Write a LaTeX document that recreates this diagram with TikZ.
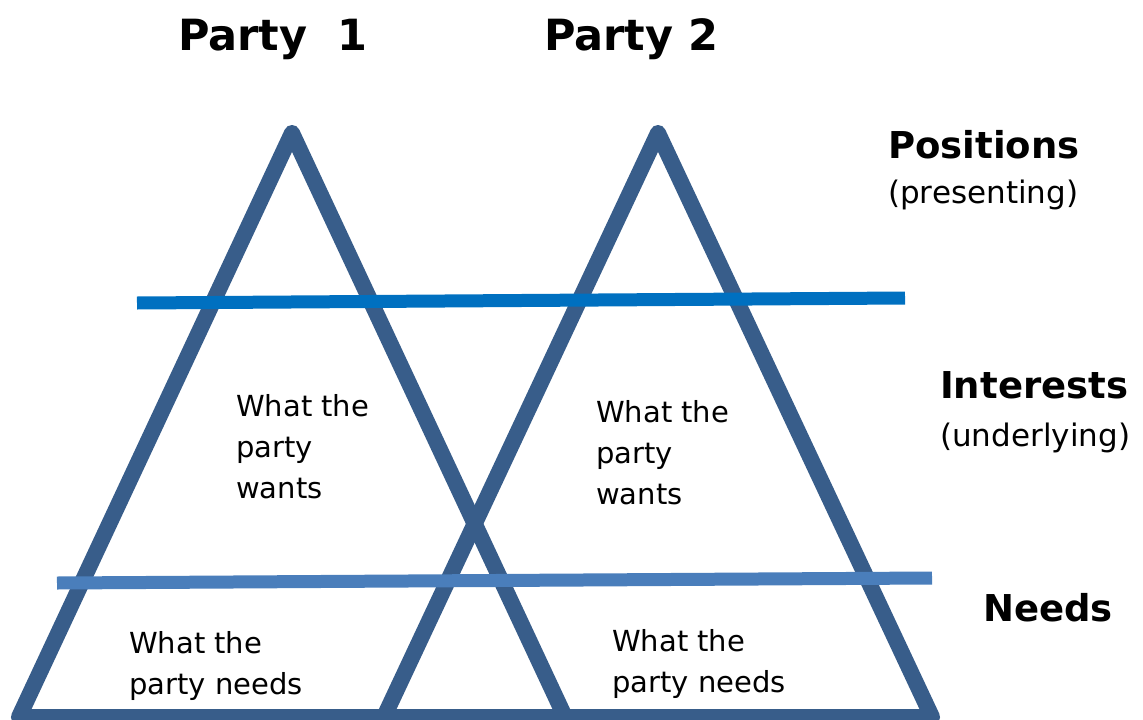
\documentclass[tikz,border=0pt]{standalone}
\usepackage{fontspec}
\setmainfont{DejaVu Sans}
\definecolor{legblue}{HTML}{385D8A}
\definecolor{topline}{HTML}{0070C0}
\definecolor{lowline}{HTML}{4A7EBB}

\begin{document}
\begin{tikzpicture}[x=1pt, y=-1pt,
			side/.style={draw=legblue, line width=16pt, line join=round},
			split/.style={line width=13pt},
			party/.style={font=\fontsize{43}{48}\selectfont\bfseries, inner sep=0pt, anchor=base west},
			level/.style={font=\fontsize{37}{44}\selectfont\bfseries, inner sep=0pt, anchor=base west},
			hint/.style={font=\fontsize{31}{36}\selectfont, inner sep=0pt, anchor=base west},
			note/.style={font=\fontsize{29}{41}\selectfont, inner sep=0pt, anchor=base west, align=left}]
			\useasboundingbox (0,0) rectangle (1143,720);
			\coordinate (top1) at (292,133);
			\coordinate (left1) at (19,717);
			\coordinate (right1) at (565,717);
			\coordinate (top2) at (658,133);
			\coordinate (left2) at (384,717);
			\coordinate (right2) at (932,717);
			\coordinate (split1w) at (137,303);
			\coordinate (split1e) at (905,298);
			\coordinate (split2w) at (57,583);
			\coordinate (split2e) at (932,578);
			\draw[side] (left1) -- (top1) -- (right1) -- cycle;
			\draw[side] (left2) -- (top2) -- (right2) -- cycle;
			\draw[split, topline] (split1w) -- (split1e);
			\draw[split, lowline] (split2w) -- (split2e);
			\node[party] (party1) at (178,50) {Party\ \ 1};
			\node[party] (party2) at (544,50) {Party 2};
			\node[level] (positions) at (888,158) {Positions};
			\node[hint] (presenting) at (888,203) {(presenting)};
			\node[level] (interests) at (940,398) {Interests};
			\node[hint] (underlying) at (940,446) {(underlying)};
			\node[level] (needs) at (983,621) {Needs};
			% base anchor of these sits on the last line
			\node[note] (wants1) at (236,498) {What the\\party\\wants};
			\node[note] (wants2) at (596,504) {What the\\party\\wants};
			\node[note] (needs1) at (129,694) {What the\\party needs};
			\node[note] (needs2) at (612,692) {What the\\party needs};
		\end{tikzpicture}
\end{document}
